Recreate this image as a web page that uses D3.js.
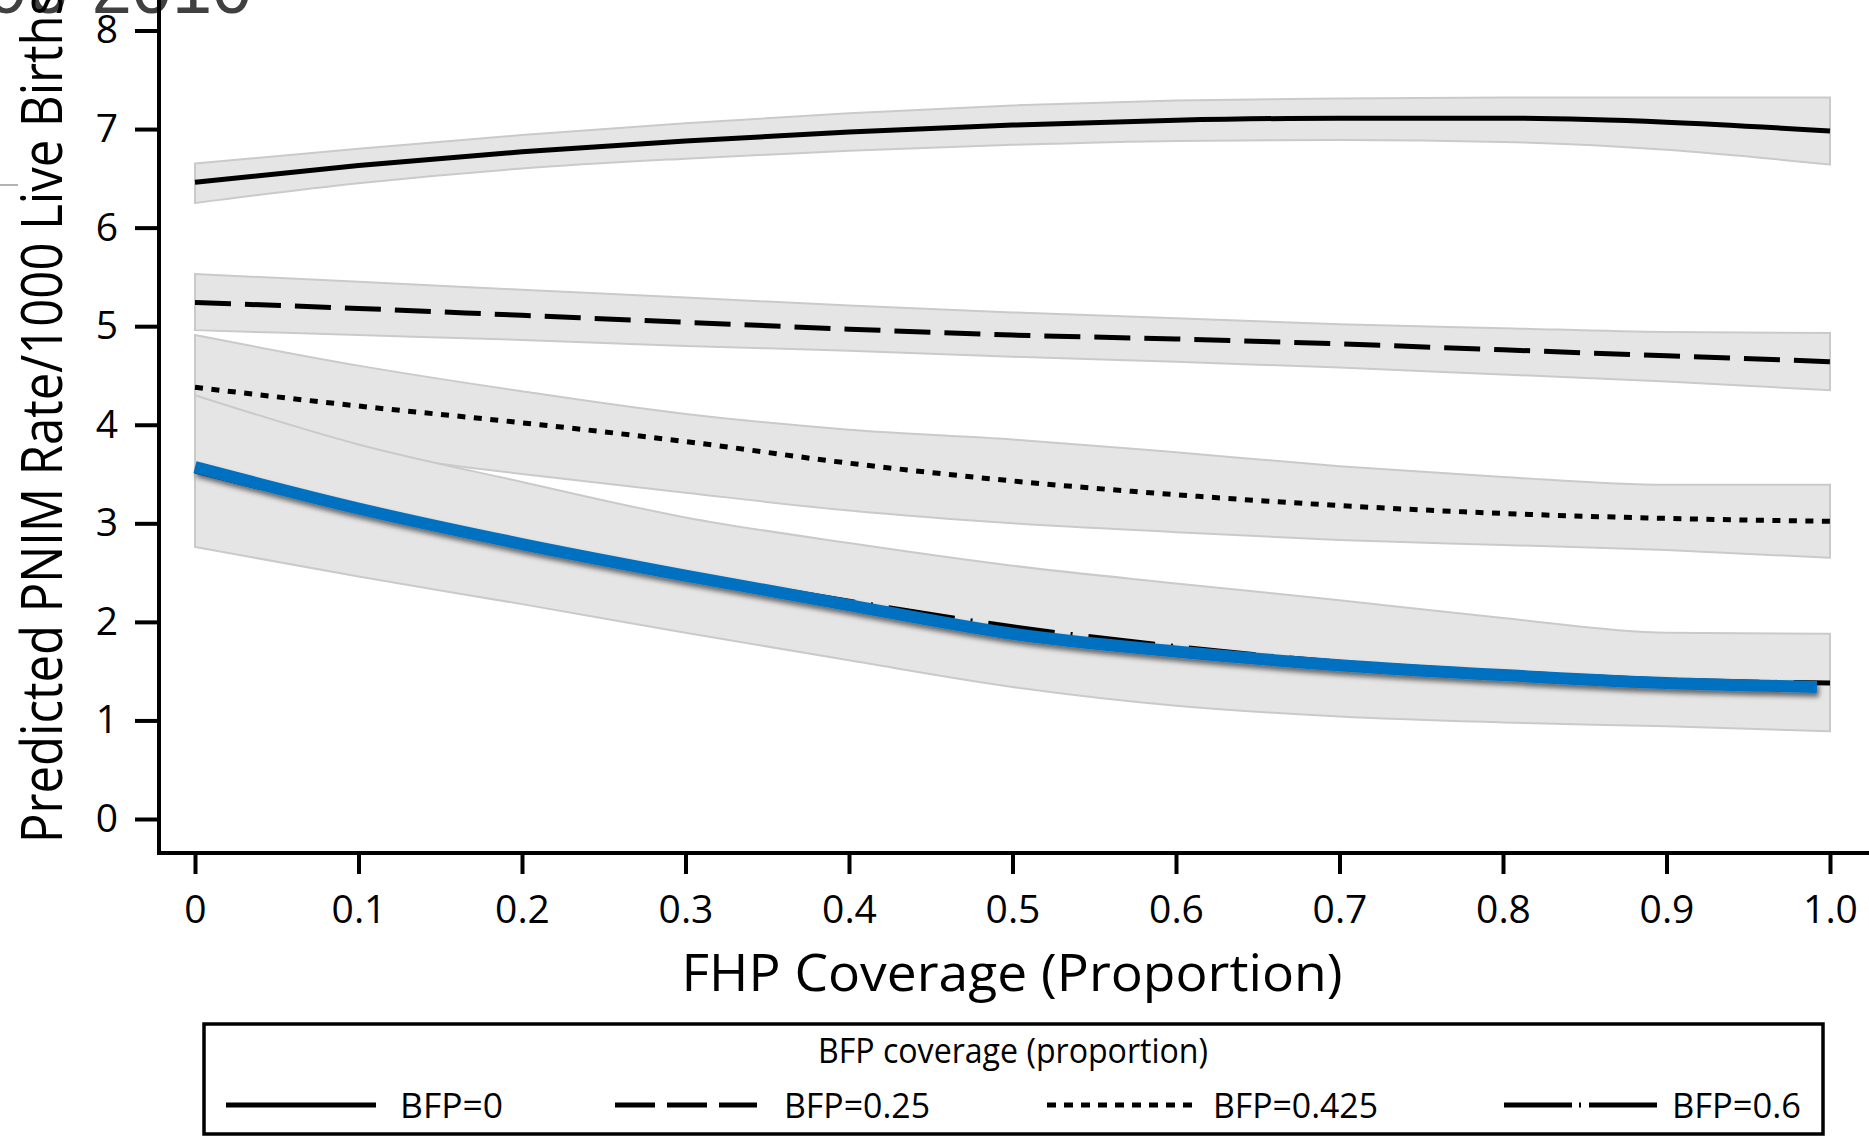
<!DOCTYPE html>
<html>
<head>
<meta charset="utf-8">
<script src="https://cdn.jsdelivr.net/npm/d3@7"></script>
<style>
  html, body { margin: 0; padding: 0; background: #ffffff; }
  svg { display: block; }
</style>
</head>
<body>
<svg id="chart" width="1869" height="1138"></svg>
<script>
// FHP coverage values at which the predictions are reported
const fhp = [0, 0.1, 0.2, 0.3, 0.4, 0.5, 0.6, 0.7, 0.8, 0.9, 1.0];

// Predicted PNIM rate and confidence limits, BFP = 0
const bfp0Mean = [6.46, 6.63, 6.77, 6.88, 6.97, 7.04, 7.09, 7.11, 7.11, 7.07, 6.98];
const bfp0Lo   = [6.25, 6.45, 6.60, 6.70, 6.78, 6.84, 6.88, 6.89, 6.87, 6.79, 6.64];
const bfp0Hi   = [6.65, 6.80, 6.94, 7.06, 7.16, 7.24, 7.29, 7.31, 7.32, 7.32, 7.32];

// BFP = 0.25
const bfp25Mean = [5.24, 5.18, 5.11, 5.04, 4.97, 4.91, 4.87, 4.82, 4.76, 4.70, 4.64];
const bfp25Lo   = [4.96, 4.91, 4.86, 4.80, 4.75, 4.69, 4.64, 4.58, 4.51, 4.44, 4.35];
const bfp25Hi   = [5.53, 5.45, 5.37, 5.29, 5.21, 5.14, 5.08, 5.02, 4.98, 4.94, 4.93];

// BFP = 0.425
const bfp425Mean = [4.38, 4.19, 4.02, 3.83, 3.61, 3.43, 3.29, 3.18, 3.10, 3.05, 3.02];
const bfp425Lo   = [3.85, 3.70, 3.50, 3.31, 3.13, 3.00, 2.91, 2.83, 2.78, 2.73, 2.65];
const bfp425Hi   = [4.91, 4.60, 4.34, 4.11, 3.95, 3.85, 3.72, 3.58, 3.47, 3.39, 3.39];

// BFP = 0.6
const bfp60Mean = [3.53, 3.13, 2.80, 2.49, 2.21, 1.95, 1.75, 1.59, 1.49, 1.41, 1.38];
const bfp60Lo   = [2.76, 2.46, 2.18, 1.89, 1.61, 1.34, 1.15, 1.04, 0.98, 0.94, 0.89];
const bfp60Hi   = [4.30, 3.80, 3.42, 3.06, 2.80, 2.57, 2.39, 2.22, 2.04, 1.89, 1.88];

// Highlighted trend drawn over the BFP = 0.6 curve
const highlightX = [0, 0.1, 0.2, 0.3, 0.4, 0.5, 0.6, 0.7, 0.8, 0.9, 0.992];
const highlightY = [3.57, 3.15, 2.79, 2.47, 2.17, 1.88, 1.70, 1.56, 1.46, 1.38, 1.34];

// Axis ticks and labels
const xTicks = [0, 0.1, 0.2, 0.3, 0.4, 0.5, 0.6, 0.7, 0.8, 0.9, 1.0];
const xTickLabels = ["0", "0.1", "0.2", "0.3", "0.4", "0.5", "0.6", "0.7", "0.8", "0.9", "1.0"];
const yTicks = [0, 1, 2, 3, 4, 5, 6, 7, 8];

// Legend
const legendTitle = "BFP coverage (proportion)";
const legendLabels = ["BFP=0", "BFP=0.25", "BFP=0.425", "BFP=0.6"];

const W = 1869, H = 1138;
const svg = d3.select("#chart");
const FONT = "'Open Sans', 'Noto Sans', sans-serif";

const x = d3.scaleLinear().domain([0, 1]).range([195, 1830]);
const y = d3.scaleLinear().domain([0, 8]).range([819, 30.5]);
const axisX = x(0) - 36;   // y-axis sits left of the data
const axisY = y(0) + 34;   // x-axis sits below the data

const defs = svg.append("defs");
const shadow = defs.append("filter").attr("id", "dropShadow")
  .attr("x", "-5%").attr("y", "-20%").attr("width", "110%").attr("height", "140%");
shadow.append("feDropShadow")
  .attr("dx", 2).attr("dy", 4).attr("stdDeviation", 2.5)
  .attr("flood-color", "#000").attr("flood-opacity", 0.55);

// Slide heading, running off the top edge
svg.append("text")
  .attr("x", 252).attr("y", 13)
  .attr("text-anchor", "end")
  .attr("font-family", "'Liberation Sans', Arial, sans-serif")
  .attr("font-size", 72)
  .attr("fill", "#404040")
  .text("1996-2010");

svg.append("line")
  .attr("x1", 0).attr("x2", 18).attr("y1", 185).attr("y2", 185)
  .attr("stroke", "#9a9a9a").attr("stroke-width", 1.5);

const groups = [
  { mean: bfp0Mean,   lo: bfp0Lo,   hi: bfp0Hi,   dash: null },
  { mean: bfp25Mean,  lo: bfp25Lo,  hi: bfp25Hi,  dash: "36,14" },
  { mean: bfp425Mean, lo: bfp425Lo, hi: bfp425Hi, dash: "8,8.5" },
  { mean: bfp60Mean,  lo: bfp60Lo,  hi: bfp60Hi,  dash: "67,16,2,16" }
];

const area = d3.area()
  .x(d => x(d.x)).y0(d => y(d.lo)).y1(d => y(d.hi))
  .curve(d3.curveMonotoneX);
const line = d3.line()
  .x(d => x(d.x)).y(d => y(d.v))
  .curve(d3.curveMonotoneX);

// Confidence bands
groups.forEach(g => {
  const pts = fhp.map((fx, i) => ({ x: fx, lo: g.lo[i], hi: g.hi[i] }));
  svg.append("path")
    .attr("d", area(pts))
    .attr("fill", "#e5e5e5")
    .attr("stroke", "#cacaca")
    .attr("stroke-width", 2);
});

// Predicted curves
groups.forEach(g => {
  const pts = fhp.map((fx, i) => ({ x: fx, v: g.mean[i] }));
  svg.append("path")
    .attr("d", line(pts))
    .attr("fill", "none")
    .attr("stroke", "#000")
    .attr("stroke-width", 5)
    .attr("stroke-dasharray", g.dash);
});

// Highlight
svg.append("path")
  .attr("d", line(highlightX.map((hx, i) => ({ x: hx, v: highlightY[i] }))))
  .attr("fill", "none")
  .attr("stroke", "#0070c0")
  .attr("stroke-width", 12)
  .attr("filter", "url(#dropShadow)");

// Axes
const yAxis = d3.axisLeft(y).tickValues(yTicks).tickFormat(d3.format("d"))
  .tickSize(24).tickSizeOuter(0).tickPadding(17);
const gy = svg.append("g").attr("transform", `translate(${axisX},0)`).call(yAxis);
gy.select(".domain").remove();
gy.selectAll(".tick line").attr("stroke", "#000").attr("stroke-width", 4);
gy.selectAll(".tick text").attr("font-family", FONT).attr("font-size", 39).attr("fill", "#000");

const xAxis = d3.axisBottom(x).tickValues(xTicks).tickFormat((d, i) => xTickLabels[i])
  .tickSize(21).tickSizeOuter(0).tickPadding(21);
const gx = svg.append("g").attr("transform", `translate(0,${axisY})`).call(xAxis);
gx.select(".domain").remove();
gx.selectAll(".tick line").attr("stroke", "#000").attr("stroke-width", 4);
gx.selectAll(".tick text").attr("font-family", FONT).attr("font-size", 39).attr("fill", "#000");

svg.append("line")
  .attr("x1", axisX).attr("x2", axisX).attr("y1", 0).attr("y2", axisY + 2)
  .attr("stroke", "#000").attr("stroke-width", 4);
svg.append("line")
  .attr("x1", axisX - 2).attr("x2", W).attr("y1", axisY).attr("y2", axisY)
  .attr("stroke", "#000").attr("stroke-width", 4);

// Axis titles
svg.append("text")
  .attr("transform", "translate(62,843) rotate(-90)")
  .attr("font-family", FONT).attr("font-size", 56)
  .attr("textLength", 851).attr("lengthAdjust", "spacingAndGlyphs")
  .attr("fill", "#000")
  .text("Predicted PNIM Rate/1000 Live Births");

svg.append("text")
  .attr("x", 1012).attr("y", 991)
  .attr("text-anchor", "middle")
  .attr("font-family", FONT).attr("font-size", 52)
  .attr("textLength", 661).attr("lengthAdjust", "spacingAndGlyphs")
  .attr("fill", "#000")
  .text("FHP Coverage (Proportion)");

// Legend
svg.append("rect")
  .attr("x", 204).attr("y", 1024).attr("width", 1619).attr("height", 110)
  .attr("fill", "#fff").attr("stroke", "#000").attr("stroke-width", 3.5);

svg.append("text")
  .attr("x", 1013).attr("y", 1063)
  .attr("text-anchor", "middle")
  .attr("font-family", FONT).attr("font-size", 34)
  .attr("textLength", 390).attr("lengthAdjust", "spacingAndGlyphs")
  .attr("fill", "#000")
  .text(legendTitle);

const legendItems = [
  { x1: 226,  x2: 376,  tx: 400,  tw: 103, dash: null },
  { x1: 615,  x2: 757,  tx: 784,  tw: 146, dash: "40,12" },
  { x1: 1047, x2: 1200, tx: 1213, tw: 165, dash: "9,8" },
  { x1: 1504, x2: 1657, tx: 1672, tw: 129, dash: "68,7,2,8" }
];
legendItems.forEach((it, i) => {
  svg.append("line")
    .attr("x1", it.x1).attr("x2", it.x2).attr("y1", 1105).attr("y2", 1105)
    .attr("stroke", "#000").attr("stroke-width", 5)
    .attr("stroke-dasharray", it.dash);
  svg.append("text")
    .attr("x", it.tx).attr("y", 1118)
    .attr("font-family", FONT).attr("font-size", 34)
    .attr("textLength", it.tw).attr("lengthAdjust", "spacingAndGlyphs")
    .attr("fill", "#000")
    .text(legendLabels[i]);
});
</script>
</body>
</html>
